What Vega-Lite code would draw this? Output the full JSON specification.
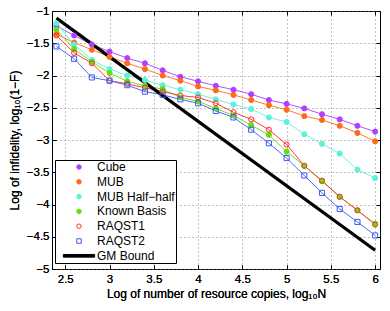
{
  "$schema": "https://vega.github.io/schema/vega-lite/v6.json",
  "width": 328,
  "height": 258,
  "autosize": {"type": "none"},
  "padding": {"left": 52, "top": 11, "right": 10, "bottom": 42},
  "config": {
    "font": "Liberation Sans",
    "view": {"stroke": "black", "strokeWidth": 1},
    "axis": {
      "grid": true,
      "gridDash": [1, 3],
      "gridColor": "#777",
      "gridOpacity": 0.9,
      "domain": false,
      "ticks": true,
      "tickColor": "black",
      "tickSize": -4,
      "labelFontSize": 11.5,
      "labelColor": "black",
      "titleFontSize": 12,
      "titleFontWeight": "normal",
      "titleColor": "black"
    }
  },
  "resolve": {"axis": {"x": "independent", "y": "independent"}},
  "data": {
    "values": [
      {"s": "Cube", "x": 2.4, "y": -1.23}, {"s": "Cube", "x": 2.6, "y": -1.38}, {"s": "Cube", "x": 2.8, "y": -1.52}, {"s": "Cube", "x": 3.0, "y": -1.63}, {"s": "Cube", "x": 3.2, "y": -1.73}, {"s": "Cube", "x": 3.4, "y": -1.81}, {"s": "Cube", "x": 3.6, "y": -1.92}, {"s": "Cube", "x": 3.8, "y": -2.02}, {"s": "Cube", "x": 4.0, "y": -2.09}, {"s": "Cube", "x": 4.2, "y": -2.16}, {"s": "Cube", "x": 4.4, "y": -2.22}, {"s": "Cube", "x": 4.6, "y": -2.29}, {"s": "Cube", "x": 4.8, "y": -2.38}, {"s": "Cube", "x": 5.0, "y": -2.44}, {"s": "Cube", "x": 5.2, "y": -2.51}, {"s": "Cube", "x": 5.4, "y": -2.60}, {"s": "Cube", "x": 5.6, "y": -2.68}, {"s": "Cube", "x": 5.8, "y": -2.78}, {"s": "Cube", "x": 6.0, "y": -2.87},
      {"s": "MUB", "x": 2.4, "y": -1.36}, {"s": "MUB", "x": 2.6, "y": -1.49}, {"s": "MUB", "x": 2.8, "y": -1.60}, {"s": "MUB", "x": 3.0, "y": -1.71}, {"s": "MUB", "x": 3.2, "y": -1.81}, {"s": "MUB", "x": 3.4, "y": -1.90}, {"s": "MUB", "x": 3.6, "y": -2.00}, {"s": "MUB", "x": 3.8, "y": -2.08}, {"s": "MUB", "x": 4.0, "y": -2.17}, {"s": "MUB", "x": 4.2, "y": -2.23}, {"s": "MUB", "x": 4.4, "y": -2.30}, {"s": "MUB", "x": 4.6, "y": -2.38}, {"s": "MUB", "x": 4.8, "y": -2.46}, {"s": "MUB", "x": 5.0, "y": -2.53}, {"s": "MUB", "x": 5.2, "y": -2.63}, {"s": "MUB", "x": 5.4, "y": -2.69}, {"s": "MUB", "x": 5.6, "y": -2.78}, {"s": "MUB", "x": 5.8, "y": -2.89}, {"s": "MUB", "x": 6.0, "y": -3.02},
      {"s": "MUB Half−half", "x": 2.4, "y": -1.19}, {"s": "MUB Half−half", "x": 2.6, "y": -1.52}, {"s": "MUB Half−half", "x": 2.8, "y": -1.76}, {"s": "MUB Half−half", "x": 3.0, "y": -1.90}, {"s": "MUB Half−half", "x": 3.2, "y": -2.00}, {"s": "MUB Half−half", "x": 3.4, "y": -2.07}, {"s": "MUB Half−half", "x": 3.6, "y": -2.15}, {"s": "MUB Half−half", "x": 3.8, "y": -2.22}, {"s": "MUB Half−half", "x": 4.0, "y": -2.29}, {"s": "MUB Half−half", "x": 4.2, "y": -2.37}, {"s": "MUB Half−half", "x": 4.4, "y": -2.45}, {"s": "MUB Half−half", "x": 4.6, "y": -2.52}, {"s": "MUB Half−half", "x": 4.8, "y": -2.65}, {"s": "MUB Half−half", "x": 5.0, "y": -2.72}, {"s": "MUB Half−half", "x": 5.2, "y": -2.91}, {"s": "MUB Half−half", "x": 5.4, "y": -3.06}, {"s": "MUB Half−half", "x": 5.6, "y": -3.21}, {"s": "MUB Half−half", "x": 5.8, "y": -3.46}, {"s": "MUB Half−half", "x": 6.0, "y": -3.59},
      {"s": "Known Basis", "x": 2.4, "y": -1.29}, {"s": "Known Basis", "x": 2.6, "y": -1.59}, {"s": "Known Basis", "x": 2.8, "y": -1.79}, {"s": "Known Basis", "x": 3.0, "y": -1.96}, {"s": "Known Basis", "x": 3.2, "y": -2.09}, {"s": "Known Basis", "x": 3.4, "y": -2.16}, {"s": "Known Basis", "x": 3.6, "y": -2.21}, {"s": "Known Basis", "x": 3.8, "y": -2.34}, {"s": "Known Basis", "x": 4.0, "y": -2.40}, {"s": "Known Basis", "x": 4.2, "y": -2.51}, {"s": "Known Basis", "x": 4.4, "y": -2.62}, {"s": "Known Basis", "x": 4.6, "y": -2.77}, {"s": "Known Basis", "x": 4.8, "y": -2.92}, {"s": "Known Basis", "x": 5.0, "y": -3.18}, {"s": "Known Basis", "x": 5.2, "y": -3.40}, {"s": "Known Basis", "x": 5.4, "y": -3.64}, {"s": "Known Basis", "x": 5.6, "y": -3.88}, {"s": "Known Basis", "x": 5.8, "y": -4.09}, {"s": "Known Basis", "x": 6.0, "y": -4.30},
      {"s": "RAQST1", "x": 2.4, "y": -1.38}, {"s": "RAQST1", "x": 2.6, "y": -1.65}, {"s": "RAQST1", "x": 2.8, "y": -1.81}, {"s": "RAQST1", "x": 3.0, "y": -2.08}, {"s": "RAQST1", "x": 3.2, "y": -2.13}, {"s": "RAQST1", "x": 3.4, "y": -2.19}, {"s": "RAQST1", "x": 3.6, "y": -2.25}, {"s": "RAQST1", "x": 3.8, "y": -2.31}, {"s": "RAQST1", "x": 4.0, "y": -2.34}, {"s": "RAQST1", "x": 4.2, "y": -2.43}, {"s": "RAQST1", "x": 4.4, "y": -2.57}, {"s": "RAQST1", "x": 4.6, "y": -2.68}, {"s": "RAQST1", "x": 4.8, "y": -2.84}, {"s": "RAQST1", "x": 5.0, "y": -3.07}, {"s": "RAQST1", "x": 5.2, "y": -3.40}, {"s": "RAQST1", "x": 5.4, "y": -3.63}, {"s": "RAQST1", "x": 5.6, "y": -3.88}, {"s": "RAQST1", "x": 5.8, "y": -4.09}, {"s": "RAQST1", "x": 6.0, "y": -4.31},
      {"s": "RAQST2", "x": 2.4, "y": -1.55}, {"s": "RAQST2", "x": 2.6, "y": -1.74}, {"s": "RAQST2", "x": 2.8, "y": -2.03}, {"s": "RAQST2", "x": 3.0, "y": -2.08}, {"s": "RAQST2", "x": 3.2, "y": -2.15}, {"s": "RAQST2", "x": 3.4, "y": -2.25}, {"s": "RAQST2", "x": 3.6, "y": -2.30}, {"s": "RAQST2", "x": 3.8, "y": -2.37}, {"s": "RAQST2", "x": 4.0, "y": -2.43}, {"s": "RAQST2", "x": 4.2, "y": -2.55}, {"s": "RAQST2", "x": 4.4, "y": -2.65}, {"s": "RAQST2", "x": 4.6, "y": -2.84}, {"s": "RAQST2", "x": 4.8, "y": -3.05}, {"s": "RAQST2", "x": 5.0, "y": -3.28}, {"s": "RAQST2", "x": 5.2, "y": -3.55}, {"s": "RAQST2", "x": 5.4, "y": -3.82}, {"s": "RAQST2", "x": 5.6, "y": -4.07}, {"s": "RAQST2", "x": 5.8, "y": -4.27}, {"s": "RAQST2", "x": 6.0, "y": -4.48},
      {"s": "GM Bound", "x": 2.4, "y": -1.11}, {"s": "GM Bound", "x": 6.0, "y": -4.71}
    ]
  },
  "encoding": {
    "x": {
      "field": "x", "type": "quantitative",
      "scale": {"domain": [2.35, 6.055], "nice": false, "zero": false},
      "axis": {"values": [2.5, 3, 3.5, 4, 4.5, 5, 5.5, 6], "format": "~g", "labelPadding": 8, "title": "Log of number of resource copies, log₁₀N", "titlePadding": 4}
    },
    "y": {
      "field": "y", "type": "quantitative",
      "scale": {"domain": [-5, -1], "nice": false, "zero": false},
      "axis": {"values": [-5, -4.5, -4, -3.5, -3, -2.5, -2, -1.5, -1], "format": "~g", "labelPadding": 7, "title": "Log of infidelity, log₁₀(1−F)", "titlePadding": 5}
    }
  },
  "layer": [
    {
      "transform": [{"filter": "datum.s !== 'GM Bound'"}],
      "mark": {"type": "line", "strokeWidth": 1},
      "encoding": {
        "color": {
          "field": "s", "type": "nominal", "legend": null,
          "scale": {
            "domain": ["Cube", "MUB", "MUB Half−half", "Known Basis", "RAQST1", "RAQST2"],
            "range": ["#b650ff", "#ff7a30", "#70f2dc", "#72e020", "#ff3a3a", "#4a6cf0"]
          }
        }
      }
    },
    {
      "transform": [{"filter": "datum.s === 'GM Bound'"}],
      "mark": {"type": "line", "strokeWidth": 3.2, "color": "black"},
      "encoding": {
        "x": {
          "field": "x", "type": "quantitative",
          "scale": {"domain": [2.35, 6.055], "nice": false, "zero": false},
          "axis": {"orient": "top", "values": [2.5, 3, 3.5, 4, 4.5, 5, 5.5, 6], "labels": false, "grid": false, "title": null}
        },
        "y": {
          "field": "y", "type": "quantitative",
          "scale": {"domain": [-5, -1], "nice": false, "zero": false},
          "axis": {"orient": "right", "values": [-5, -4.5, -4, -3.5, -3, -2.5, -2, -1.5, -1], "labels": false, "grid": false, "title": null}
        }
      }
    },
    {
      "transform": [{"filter": "datum.s !== 'GM Bound'"}],
      "mark": {"type": "point", "strokeWidth": 1, "opacity": 1},
      "encoding": {
        "fill": {
          "field": "s", "type": "nominal",
          "scale": {
            "domain": ["Cube", "MUB", "MUB Half−half", "Known Basis", "RAQST1", "RAQST2", "GM Bound"],
            "range": ["#b040ff", "#ff6a1a", "#5ef0d8", "#66dd11", "transparent", "transparent", "black"]
          },
          "legend": {
            "title": null, "orient": "none", "legendX": 3, "legendY": 149,
            "strokeColor": "black", "fillColor": "white", "padding": 1,
            "labelFontSize": 12, "labelColor": "black", "rowPadding": 2.8,
            "symbolSize": 20, "symbolStrokeWidth": 1, "symbolOffset": 17, "labelOffset": 12
          }
        },
        "stroke": {
          "field": "s", "type": "nominal",
          "scale": {
            "domain": ["Cube", "MUB", "MUB Half−half", "Known Basis", "RAQST1", "RAQST2", "GM Bound"],
            "range": ["#b040ff", "#ff6a1a", "#5ef0d8", "#66dd11", "#ff2a2a", "#3a5cf0", "black"]
          }
        },
        "shape": {
          "field": "s", "type": "nominal",
          "scale": {
            "domain": ["Cube", "MUB", "MUB Half−half", "Known Basis", "RAQST1", "RAQST2", "GM Bound"],
            "range": ["circle", "circle", "circle", "circle", "circle", "square", "M-7,-0.6L7,-0.6L7,0.6L-7,0.6Z"]
          }
        },
        "size": {
          "field": "s", "type": "nominal", "legend": null,
          "scale": {
            "domain": ["Cube", "MUB", "MUB Half−half", "Known Basis", "RAQST1", "RAQST2"],
            "range": [26, 26, 26, 26, 45, 36]
          }
        }
      }
    }
  ]
}
